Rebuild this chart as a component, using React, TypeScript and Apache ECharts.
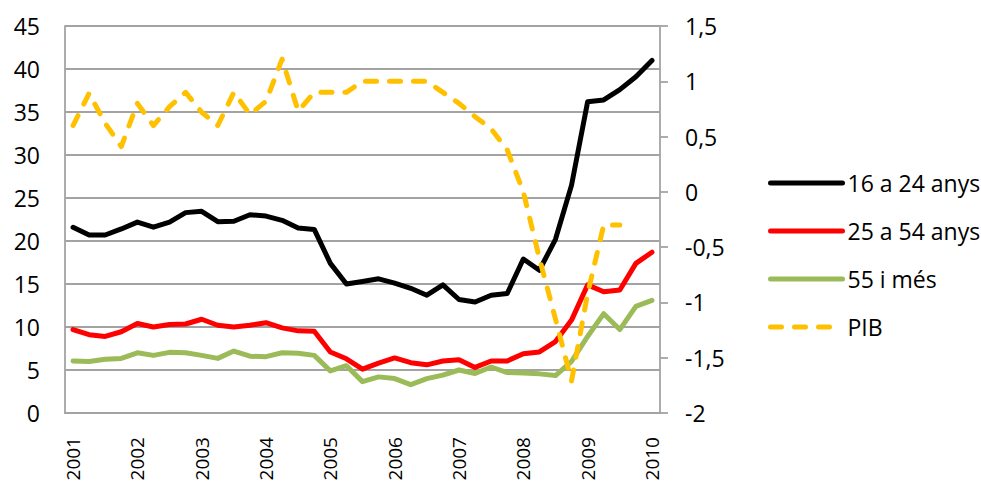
import React, { useEffect, useRef } from "react";
import * as echarts from "echarts";

const years = ["2001", "2002", "2003", "2004", "2005", "2006", "2007", "2008", "2009", "2010"];
const quarters = ["T1", "T2", "T3", "T4"];
const categories: string[] = [];
years.forEach((y, i) => {
  quarters.forEach((q, j) => {
    if (i < years.length - 1 || j === 0) categories.push(y + " " + q);
  });
});

const youth16_24 = [21.6, 20.7, 20.7, 21.4, 22.2, 21.6, 22.2, 23.3, 23.45, 22.25, 22.3, 23.05, 22.9, 22.4, 21.5, 21.35,
  17.4, 15.0, 15.3, 15.6, 15.1, 14.5, 13.7, 14.9, 13.2, 12.9, 13.7, 13.9, 17.9, 16.6, 20.2, 26.5, 36.2, 36.4, 37.6, 39.1, 41.0];
const adult25_54 = [9.7, 9.1, 8.9, 9.45, 10.4, 10.0, 10.3, 10.35, 10.9, 10.2, 10.0, 10.2, 10.5, 9.9, 9.55, 9.5,
  7.1, 6.3, 5.1, 5.8, 6.4, 5.85, 5.6, 6.05, 6.2, 5.3, 6.05, 6.05, 6.9, 7.1, 8.3, 10.8, 14.9, 14.1, 14.3, 17.4, 18.7];
const senior55 = [6.05, 6.0, 6.25, 6.35, 7.0, 6.7, 7.05, 7.0, 6.7, 6.35, 7.2, 6.6, 6.55, 7.0, 6.95, 6.7,
  4.9, 5.5, 3.65, 4.2, 4.0, 3.3, 4.0, 4.4, 5.0, 4.6, 5.35, 4.7, 4.65, 4.55, 4.35, 6.0, 8.9, 11.55, 9.7, 12.4, 13.1];
const pib = [0.6, 0.89, 0.62, 0.41, 0.8, 0.6, 0.77, 0.9, 0.72, 0.6, 0.9, 0.7, 0.82, 1.2, 0.73, 0.9,
  0.9, 0.9, 1.0, 1.0, 1.0, 1.0, 1.0, 0.9, 0.8, 0.68, 0.57, 0.38, 0.0, -0.6, -1.15, -1.71, -0.92, -0.3, -0.3, null, null];

const seriesNames = ["16 a 24 anys", "25 a 54 anys", "55 i més", "PIB"];
const FONT = "'Open Sans', sans-serif";
const GRID_COLOR = "#a3a3a3";

export default function App() {
  const ref = useRef<HTMLDivElement>(null);
  useEffect(() => {
    if (!ref.current) return;
    const chart = echarts.init(ref.current, null, { renderer: "svg" });
    const lineBase = { width: 5, cap: "round", join: "round" };
    chart.setOption({
      animation: false,
      backgroundColor: "#ffffff",
      textStyle: { fontFamily: FONT },
      grid: { left: 65, right: 321, top: 26, bottom: 71, containLabel: false },
      legend: {
        orient: "vertical",
        left: 768,
        top: 169,
        padding: 0,
        itemWidth: 72,
        itemHeight: 14,
        itemGap: 20,
        data: seriesNames,
        itemStyle: { opacity: 0 },
        lineStyle: { width: 5, cap: "round" },
        textStyle: { fontSize: 23, lineHeight: 28, color: "#000", fontFamily: FONT },
      },
      xAxis: {
        type: "category",
        data: categories,
        boundaryGap: true,
        axisLine: { show: true, lineStyle: { color: GRID_COLOR, width: 1.8 } },
        axisTick: { show: false },
        axisLabel: {
          interval: 3,
          rotate: 90,
          fontSize: 19,
          margin: 24,
          color: "#000",
          fontFamily: FONT,
          formatter: (v: string) => v.slice(0, 4),
        },
        splitLine: { show: false },
      },
      yAxis: [
        {
          type: "value",
          min: 0,
          max: 45,
          interval: 5,
          position: "left",
          axisLine: { show: true, lineStyle: { color: GRID_COLOR, width: 1.8 } },
          axisTick: { show: false },
          axisLabel: { fontSize: 23, margin: 25, color: "#000", fontFamily: FONT },
          splitLine: { show: true, lineStyle: { color: GRID_COLOR, width: 1.8 } },
        },
        {
          type: "value",
          min: -2,
          max: 1.5,
          interval: 0.5,
          position: "right",
          axisLine: { show: true, lineStyle: { color: GRID_COLOR, width: 1.8 } },
          axisTick: { show: true, length: 8, inside: false, lineStyle: { color: GRID_COLOR, width: 1.8 } },
          axisLabel: {
            fontSize: 23,
            margin: 25,
            color: "#000",
            fontFamily: FONT,
            formatter: (v: number) => String(v).replace(".", ","),
          },
          splitLine: { show: false },
        },
      ],
      series: [
        {
          name: seriesNames[0],
          type: "line",
          data: youth16_24,
          symbol: "none",
          color: "#000000",
          lineStyle: { ...lineBase, color: "#000000" },
        },
        {
          name: seriesNames[1],
          type: "line",
          data: adult25_54,
          symbol: "none",
          color: "#ff0000",
          lineStyle: { ...lineBase, color: "#ff0000" },
        },
        {
          name: seriesNames[2],
          type: "line",
          data: senior55,
          symbol: "none",
          color: "#9bbb59",
          lineStyle: { ...lineBase, color: "#9bbb59" },
        },
        {
          name: seriesNames[3],
          type: "line",
          yAxisIndex: 1,
          data: pib,
          symbol: "none",
          color: "#ffc000",
          lineStyle: { ...lineBase, color: "#ffc000", type: [11, 13] },
        },
      ],
    });
    return () => chart.dispose();
  }, []);
  return (
    <div
      ref={ref}
      style={{ position: "fixed", left: 0, top: 0, width: 981, height: 484, background: "#fff" }}
    />
  );
}
